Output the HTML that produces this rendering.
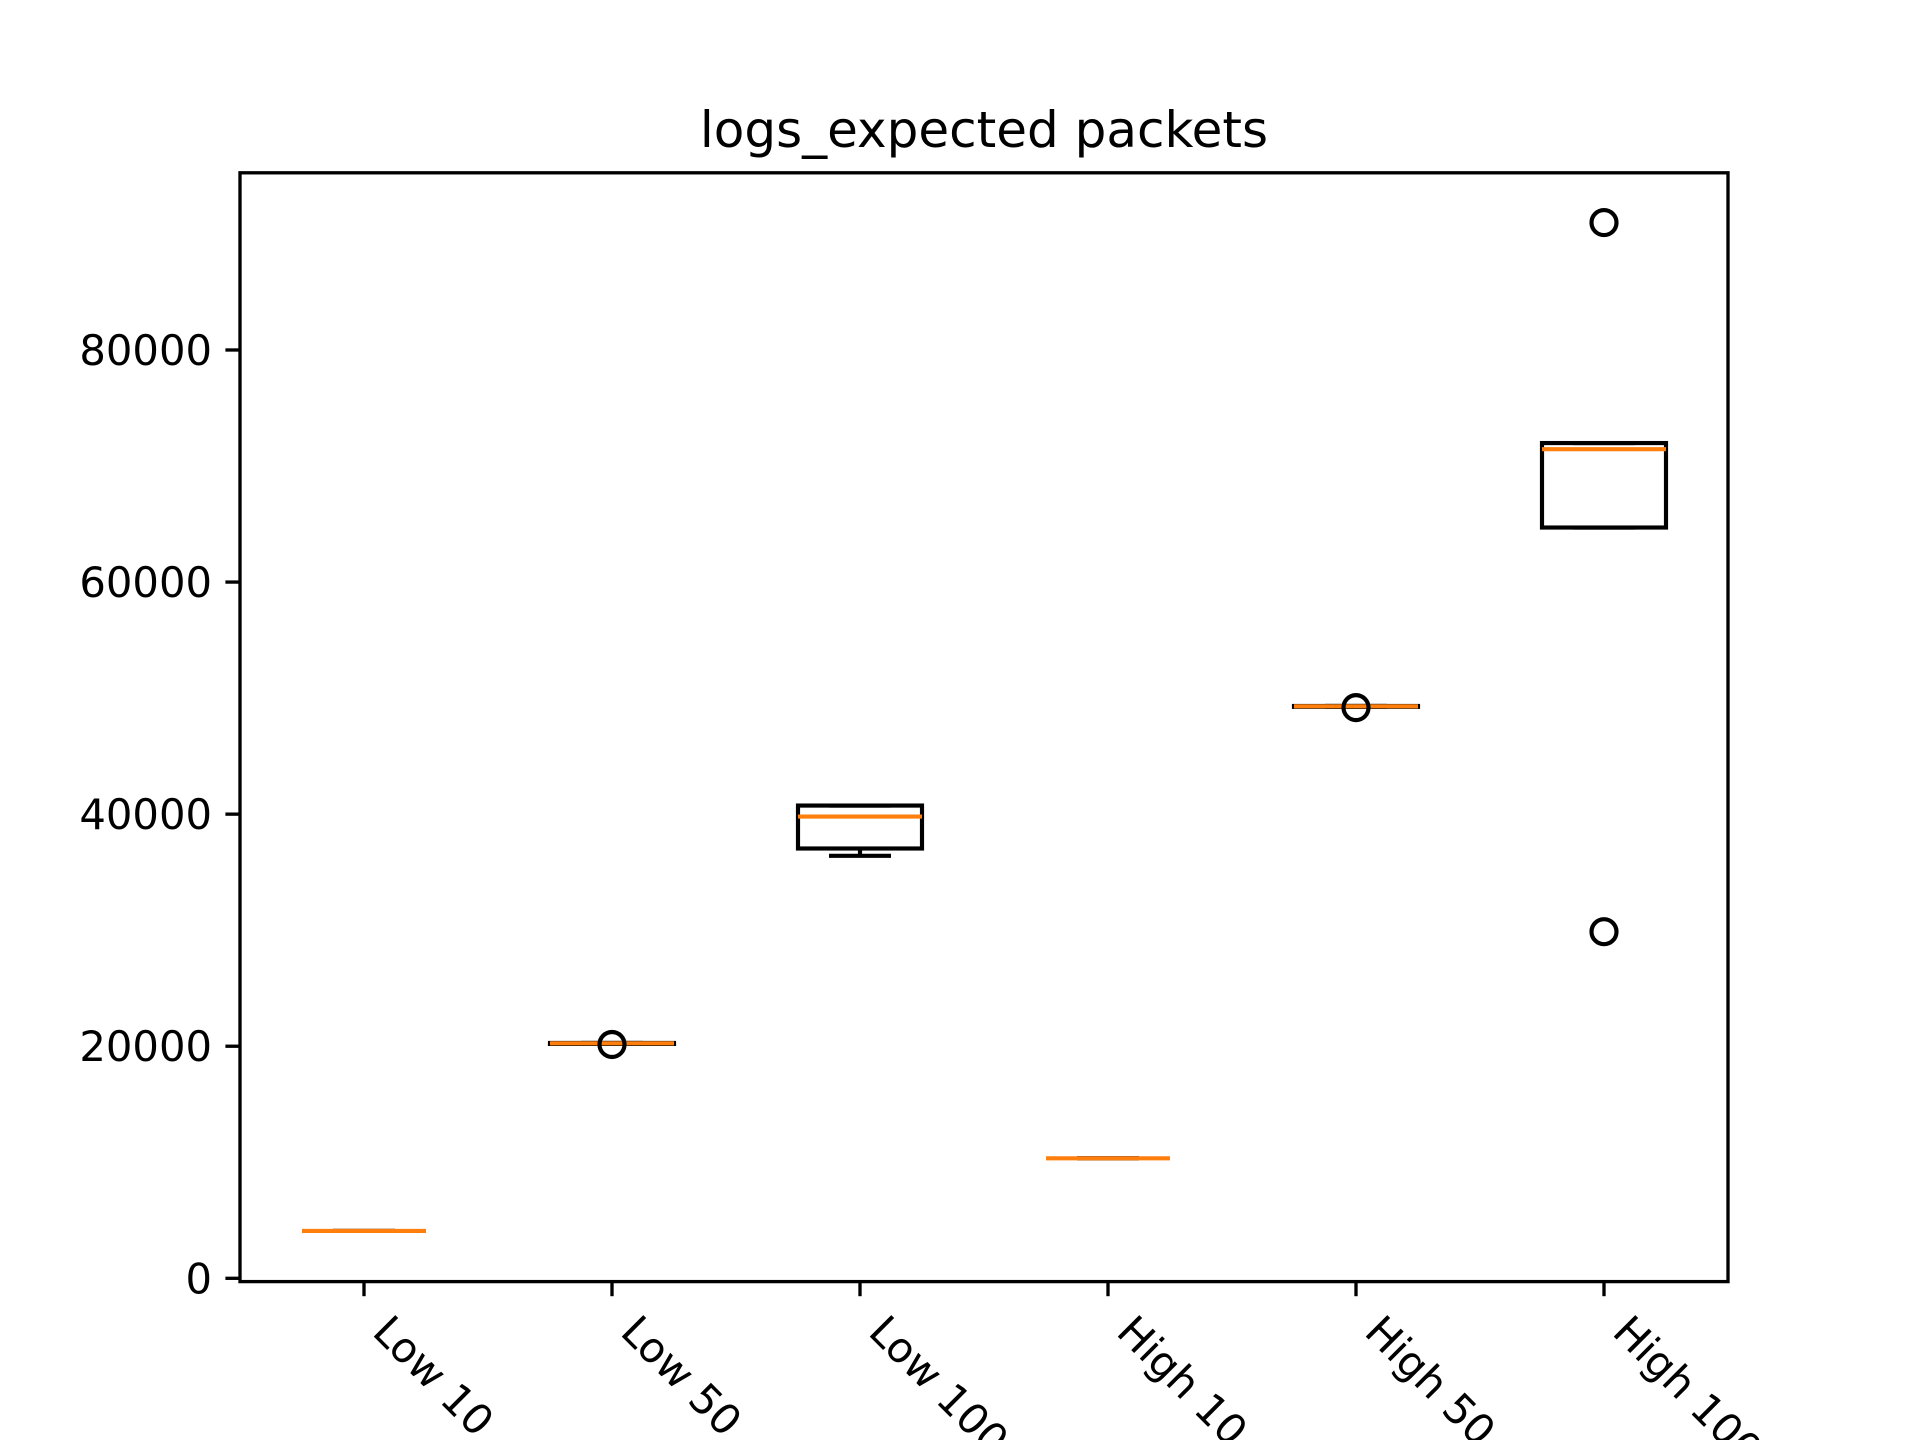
<!DOCTYPE html>
<html><head><meta charset="utf-8"><style>
html,body{margin:0;padding:0;background:#fff;}
svg{display:block;font-family:"DejaVu Sans","Liberation Sans",sans-serif;}
</style></head><body>
<svg id="chart" width="1920" height="1440" viewBox="0 0 1920 1440" xmlns="http://www.w3.org/2000/svg">
<rect width="1920" height="1440" fill="#fff"/>
<text x="984" y="147" font-size="50" text-anchor="middle">logs_expected packets</text>
<g id="plot"></g>
</svg>
<script>
const categories = ["Low 10","Low 50","Low 100","High 10","High 50","High 100"];
const q1Values = [4080, 20200, 37040, 10340, 49250, 64700];
const medianValues = [4080, 20250, 39790, 10340, 49290, 71450];
const q3Values = [4080, 20280, 40740, 10340, 49320, 71980];
const whiskerLow = [4080, 20200, 36410, 10340, 49250, 64700];
const whiskerHigh = [4080, 20280, 40740, 10340, 49320, 71980];
const outliers = [[], [20150], [], [], [49180], [90980, 29870]];
const yTicks = [0, 20000, 40000, 60000, 80000];
const yTickLabels = ["0","20000","40000","60000","80000"];

const L=240,R=1728,T=172.8,B=1281.6;
const yMin=-284,yMax=95270;
const xs=v=>L+(v-0.5)/categories.length*(R-L);
const ys=v=>B-(v-yMin)/(yMax-yMin)*(B-T);
const NS="http://www.w3.org/2000/svg";
const g=document.getElementById('plot');
function mk(tag,attrs,parent){const e=document.createElementNS(NS,tag);for(const k in attrs)e.setAttribute(k,attrs[k]);(parent||g).appendChild(e);return e;}
const unit=(R-L)/categories.length;
categories.forEach((c,i)=>{
  const cx=xs(i+1), hw=unit*0.25, cw=unit*0.125;
  const grp=mk('g',{});
  
  
  const st={stroke:'#000','stroke-width':4.17,fill:'none'};
  const y1=ys(q1Values[i]),y3=ys(q3Values[i]);
  const box=mk('rect',Object.assign({x:cx-hw,y:y3,width:2*hw,height:Math.max(0,y1-y3)},st),grp);
  
  
  const wl=mk('line',Object.assign({x1:cx,x2:cx,y1:y1,y2:ys(whiskerLow[i])},st),grp);
  
  
  const wh=mk('line',Object.assign({x1:cx,x2:cx,y1:y3,y2:ys(whiskerHigh[i])},st),grp);
  
  
  const cl=mk('line',Object.assign({x1:cx-cw,x2:cx+cw,y1:ys(whiskerLow[i]),y2:ys(whiskerLow[i])},st),grp);
  
  
  const ch=mk('line',Object.assign({x1:cx-cw,x2:cx+cw,y1:ys(whiskerHigh[i]),y2:ys(whiskerHigh[i])},st),grp);
  
  
  const md=mk('line',{x1:cx-hw,x2:cx+hw,y1:ys(medianValues[i]),y2:ys(medianValues[i]),stroke:'#ff7f0e','stroke-width':4.17},grp);
  
  
  outliers[i].forEach(v=>{
    const o=mk('circle',{cx:cx,cy:ys(v),r:12.5,stroke:'#000','stroke-width':4.17,fill:'none'},grp);
    
    
  });
  const t=mk('line',{x1:cx,x2:cx,y1:B,y2:B+14.6,stroke:'#000','stroke-width':3.33});
  
  
  const lx=cx+29, ly=B+30;
  const tx=mk('text',{x:lx,y:ly,'font-size':41.7,transform:`rotate(45 ${lx} ${ly})`,dy:'0.75em'});
  tx.textContent=c;
  
  
});
yTicks.forEach((v,i)=>{
  const y=ys(v);
  const t=mk('line',{x1:L-14.6,x2:L,y1:y,y2:y,stroke:'#000','stroke-width':3.33});
  
  
  const tx=mk('text',{x:L-28,y:y+15,'font-size':41.7,'text-anchor':'end'});
  tx.textContent=yTickLabels[i];
  
  
});
const frame=mk('rect',{x:L,y:T,width:R-L,height:B-T,fill:'none',stroke:'#000','stroke-width':3.33});


</script>
</body></html>
